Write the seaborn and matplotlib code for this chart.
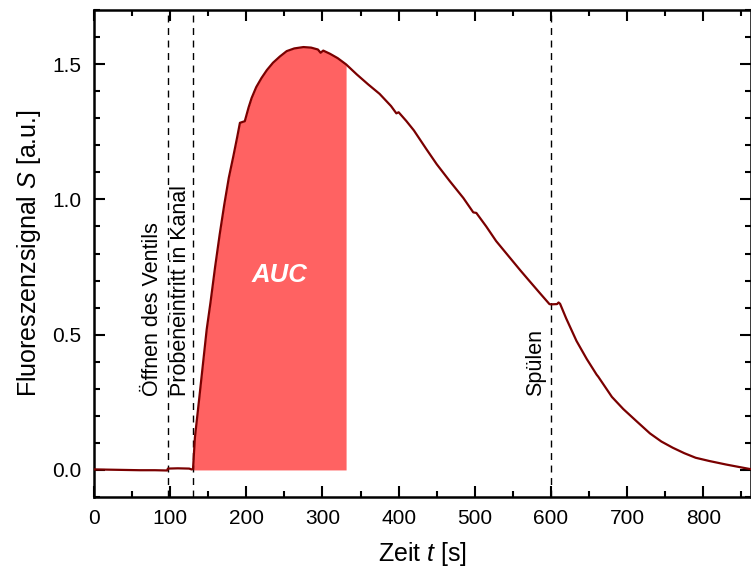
import numpy as np
import pandas as pd
import matplotlib
matplotlib.use("Agg")
import matplotlib.pyplot as plt
from matplotlib.ticker import MultipleLocator, FormatStrFormatter
import seaborn as sns

# Fluorescence time trace
time_s = [0, 20, 40, 60, 80, 96, 97, 110, 125, 128, 130, 132.5, 138, 143, 148,
          153, 159, 165, 171, 177, 183, 188, 191.6, 198, 203, 207, 213, 220, 227,
          235, 244, 253, 263, 275, 285, 294, 297.5, 301, 310, 320, 331, 345, 360,
          375, 390, 397, 400, 410, 420, 436.6, 450, 467, 485, 498, 502, 515, 528,
          545, 560, 570, 585, 598, 600, 608, 610, 612, 620, 633.5, 647, 660, 662,
          680, 695, 712, 730, 745, 760, 775, 790, 808, 830, 845, 862]
signal = [0.002, 0.001, 0.0, -0.001, -0.001, -0.002, 0.005, 0.006, 0.005, 0.002,
          0.003, 0.12, 0.26, 0.39, 0.52, 0.62, 0.75, 0.87, 0.98, 1.08, 1.16, 1.23,
          1.283, 1.289, 1.34, 1.375, 1.415, 1.449, 1.478, 1.505, 1.528, 1.548,
          1.558, 1.563, 1.561, 1.554, 1.542, 1.550, 1.538, 1.522, 1.499, 1.462,
          1.425, 1.39, 1.345, 1.318, 1.322, 1.29, 1.255, 1.185, 1.13, 1.068,
          1.005, 0.952, 0.950, 0.90, 0.846, 0.788, 0.737, 0.704, 0.655, 0.613,
          0.612, 0.613, 0.619, 0.614, 0.56, 0.477, 0.41, 0.352, 0.345, 0.27,
          0.225, 0.181, 0.135, 0.105, 0.082, 0.062, 0.045, 0.033, 0.02, 0.012,
          0.003]

# Event markers
event_times = [97, 130, 600]
event_labels = ["Öffnen des Ventils", "Probeneintritt in Kanal", "Spülen"]
event_label_x = [90, 127, 594]

# Integration window for the area under the curve
auc_start, auc_end = 130, 331

df = pd.DataFrame({"t": time_s, "S": signal})

sns.set_theme(style="ticks")
plt.rcParams["font.family"] = ["Liberation Sans", "DejaVu Sans"]
plt.rcParams["mathtext.fontset"] = "custom"
plt.rcParams["mathtext.it"] = "Liberation Sans:italic"
plt.rcParams["mathtext.rm"] = "Liberation Sans"
plt.rcParams["text.color"] = "black"
plt.rcParams["axes.labelcolor"] = "black"

fig = plt.figure(figsize=(7.51, 5.69), dpi=100)
ax = fig.add_axes([94 / 751, 1 - 497 / 569, 656.5 / 751, 487 / 569])

# shaded AUC region
mask = (df["t"] >= auc_start) & (df["t"] <= auc_end)
ax.fill_between(df["t"][mask], 0, df["S"][mask], color="#ff6262", lw=0, zorder=1)
ax.text(244, 0.72, "AUC", color="white", fontsize=18.5, fontweight="bold",
        fontstyle="italic", ha="center", va="center", zorder=3)

sns.lineplot(data=df, x="t", y="S", sort=False, color="#7a0000", lw=1.6,
             ax=ax, zorder=4)

for xt, lab, xl in zip(event_times, event_labels, event_label_x):
    ax.axvline(xt, color="black", lw=1.0, ls=(0, (5, 4)), zorder=2)
    ax.text(xl, 0.273, lab, rotation=90, ha="right", va="bottom",
            fontsize=15.5, color="black")

ax.set_xlim(0, 862)
ax.set_ylim(-0.10, 1.70)
ax.xaxis.set_major_locator(MultipleLocator(100))
ax.xaxis.set_minor_locator(MultipleLocator(50))
ax.yaxis.set_major_locator(MultipleLocator(0.5))
ax.yaxis.set_minor_locator(MultipleLocator(0.1))
ax.yaxis.set_major_formatter(FormatStrFormatter("%.1f"))

ax.tick_params(which="both", direction="in", top=True, right=True,
               labelsize=15, width=1.5, colors="black")
ax.tick_params(which="major", length=8, pad=9)
ax.tick_params(which="minor", length=4)
for sp in ax.spines.values():
    sp.set_linewidth(1.8)
    sp.set_color("black")

ax.set_xlabel(r"Zeit $\it{t}$ [s]", fontsize=18, labelpad=8)
ax.set_ylabel(r"Fluoreszenzsignal $\it{S}$ [a.u.]", fontsize=18, labelpad=7)

fig.savefig("out.png", dpi=100)
